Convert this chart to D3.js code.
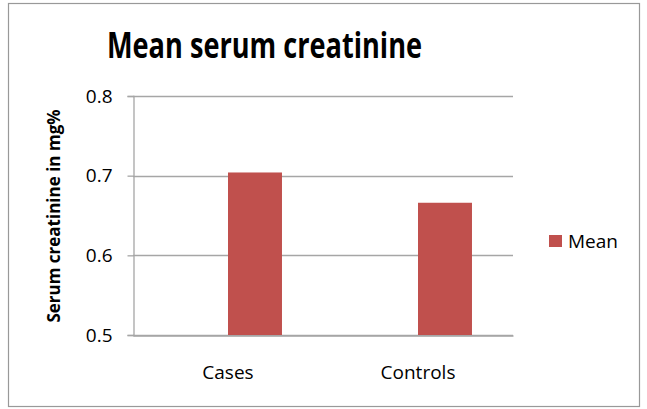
<!DOCTYPE html>
<html>
<head>
<meta charset="utf-8">
<script src="https://cdn.jsdelivr.net/npm/d3@7"></script>
<style>
  body { margin: 0; background: #fff; }
  svg { display: block; }
</style>
</head>
<body>
<svg id="chart" width="647" height="409"></svg>
<script>
  // data
  const categories = ['Cases', 'Controls'];
  const seriesSlots = ['blank', 'Mean']; // first slot is an empty series in the original
  const meanValues = [0.704, 0.666];
  const yTicks = [0.5, 0.6, 0.7, 0.8];
  const chartTitle = 'Mean serum creatinine';
  const yTitle = 'Serum creatinine in mg%';

  const font = '"Open Sans", sans-serif';
  const barColor = '#c0504d';
  const gridColor = '#a6a6a6';

  const svg = d3.select('#chart');
  const margin = {top: 96, right: 134, bottom: 74, left: 133};
  const width = 647 - margin.left - margin.right;
  const height = 409 - margin.top - margin.bottom;

  // outer frame
  svg.append('rect')
    .attr('x', 8.5).attr('y', 3.5)
    .attr('width', 631).attr('height', 403)
    .attr('fill', '#fff')
    .attr('stroke', '#999')
    .attr('stroke-width', 1.2);

  // title is a narrow face in the original, so squeeze it to the same width
  svg.append('text')
    .attr('x', 107)
    .attr('y', 58)
    .attr('textLength', 315)
    .attr('lengthAdjust', 'spacingAndGlyphs')
    .attr('font-family', font)
    .attr('font-weight', 'bold')
    .attr('font-size', 35)
    .attr('fill', '#000')
    .text(chartTitle);

  const g = svg.append('g')
    .attr('transform', 'translate(' + margin.left + ',' + margin.top + ')');

  const x0 = d3.scaleBand()
    .domain(categories)
    .range([0, width]);

  const x1 = d3.scaleBand()
    .domain(seriesSlots)
    .range([0, x0.bandwidth()])
    .paddingInner(0)
    .paddingOuter(0.76);

  const y = d3.scaleLinear()
    .domain([0.5, 0.8])
    .range([height, 0]);

  // gridlines
  g.append('g')
    .selectAll('line')
    .data(yTicks)
    .enter().append('line')
    .attr('x1', 0)
    .attr('x2', width)
    .attr('y1', (d) => Math.round(y(d)) + 0.5)
    .attr('y2', (d) => Math.round(y(d)) + 0.5)
    .attr('stroke', gridColor)
    .attr('stroke-width', 1.3);

  // bars
  g.append('g')
    .selectAll('rect')
    .data(categories.map((c, i) => ({cat: c, value: meanValues[i]})))
    .enter().append('rect')
    .attr('x', (d) => x0(d.cat) + x1('Mean'))
    .attr('y', (d) => y(d.value))
    .attr('width', x1.bandwidth())
    .attr('height', (d) => height - y(d.value))
    .attr('fill', barColor);

  // y axis
  const yAxis = g.append('g')
    .attr('transform', 'translate(0.5,0)')
    .call(d3.axisLeft(y).tickValues(yTicks).tickFormat(d3.format('.1f'))
      .tickSizeOuter(0).tickSize(6).tickPadding(15));
  yAxis.select('.domain').attr('stroke', gridColor).attr('stroke-width', 1.3);
  yAxis.selectAll('.tick line').attr('stroke', gridColor).attr('stroke-width', 1.3);
  yAxis.selectAll('.tick text')
    .attr('font-family', font)
    .attr('font-size', 19)
    .attr('fill', '#000');

  // x axis
  const xAxis = g.append('g')
    .attr('transform', 'translate(0,' + (height + 0.5) + ')')
    .call(d3.axisBottom(x0).tickSize(0));
  xAxis.select('.domain').attr('stroke', gridColor).attr('stroke-width', 1.3);
  xAxis.selectAll('.tick text')
    .attr('y', 43)
    .attr('dy', null)
    .attr('font-family', font)
    .attr('font-size', 19)
    .attr('fill', '#000');

  // y title
  svg.append('text')
    .attr('transform', 'translate(60,216) rotate(-90)')
    .attr('text-anchor', 'middle')
    .attr('font-family', font)
    .attr('font-weight', 'bold')
    .attr('font-size', 17)
    .attr('fill', '#000')
    .text(yTitle);

  // legend
  const legend = svg.append('g')
    .attr('transform', 'translate(549,235)');
  legend.append('rect')
    .attr('width', 13)
    .attr('height', 12)
    .attr('fill', barColor);
  legend.append('text')
    .attr('x', 19)
    .attr('y', 13)
    .attr('font-family', font)
    .attr('font-size', 19)
    .attr('fill', '#000')
    .text(seriesSlots[1]);
</script>
</body>
</html>
